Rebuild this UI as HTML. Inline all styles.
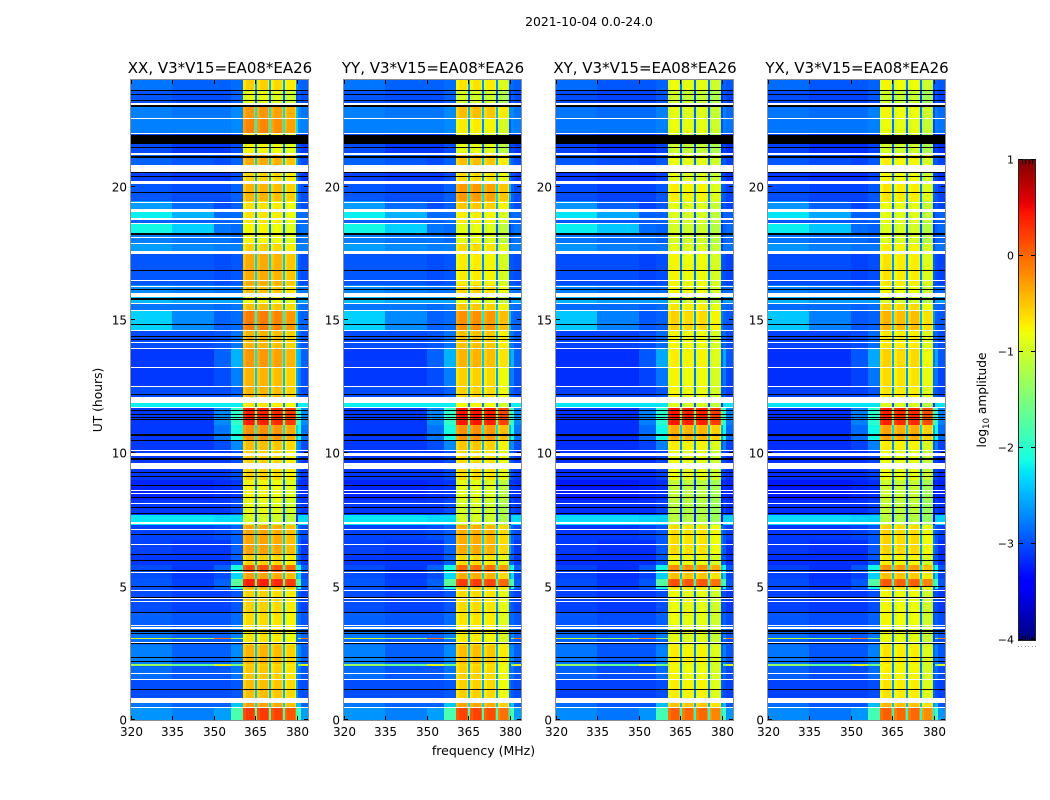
<!DOCTYPE html>
<html lang="en">
<head>
<meta charset="utf-8">
<title>2021-10-04 0.0-24.0</title>
<style>
html,body{margin:0;padding:0;background:#fff;width:1050px;height:800px;overflow:hidden}
svg{display:block}
text{font-family:"DejaVu Sans","Liberation Sans",sans-serif;fill:#000}
</style>
</head>
<body>
<svg id="chart" xmlns="http://www.w3.org/2000/svg" width="1050" height="800" viewBox="0 0 1050 800">
<rect x="0" y="0" width="1050" height="800" fill="#fff"></rect>
<text x="589" y="26" font-size="12.4" text-anchor="middle">2021-10-04 0.0-24.0</text>
<text x="483.5" y="755" font-size="12.5" text-anchor="middle">frequency (MHz)</text>
<text x="0" y="0" font-size="12.3" text-anchor="middle" transform="translate(102,400) rotate(-90)">UT (hours)</text>
<text x="0" y="0" font-size="12.2" text-anchor="middle" transform="translate(986,400) rotate(-90)">log<tspan font-size="8.5" dy="3">10</tspan><tspan dy="-3"> amplitude</tspan></text>
</svg>
<script>
// Panels
const panelTitles = ['XX, V3*V15=EA08*EA26', 'YY, V3*V15=EA08*EA26', 'XY, V3*V15=EA08*EA26', 'YX, V3*V15=EA08*EA26'];

// Tick labels
const freqTicks = [320, 335, 350, 365, 380];
const hourTicks = [0, 5, 10, 15, 20];
const colorbarTicks = [1, 0, -1, -2, -3, -4];

// Time blocks (UT hours, start of each block)
const blockStartHours = [0, 0.45, 0.83, 1.5, 2.03, 2.09, 2.8, 3.02, 3.08, 3.55, 4.05, 4.9, 5.0, 5.3, 5.55, 5.8, 6.2, 6.75, 7.3, 7.7, 8.25, 9.0, 10.13, 10.45, 11.05, 11.74, 12.12, 12.5, 13.2, 13.95, 14.63, 15.36, 15.6, 16.02, 16.3, 17.6, 17.87, 18.26, 18.64, 18.81, 19.16, 19.45, 20.21, 20.81, 21.26, 22.0, 22.58, 23.1, 23.6];

// log10 amplitude below the spectral windows, one array per frequency range
const low320to335 = [-2.65, -2.8, -3.0, -2.85, -1.3, -2.75, -2.85, -1.0, -2.8, -2.9, -3.0, -3.0, -2.95, -3.0, -3.0, -3.1, -3.05, -3.05, -2.25, -3.1, -3.2, -3.1, -3.1, -3.1, -3.1, -2.2, -3.0, -3.1, -3.1, -3.0, -2.35, -2.8, -2.45, -2.7, -2.95, -2.6, -2.75, -2.15, -2.9, -2.2, -2.6, -2.95, -3.05, -2.9, -3.0, -2.75, -2.75, -2.95, -2.8];
const low335to350 = [-2.75, -2.9, -3.0, -2.95, -1.6, -2.9, -2.95, -1.2, -2.9, -2.95, -3.05, -3.1, -3.05, -3.1, -3.1, -3.1, -3.1, -3.05, -2.25, -3.1, -3.2, -3.1, -3.1, -3.1, -3.1, -2.2, -3.0, -3.1, -3.1, -3.0, -2.7, -2.8, -2.55, -2.75, -2.95, -2.7, -2.8, -2.35, -2.9, -2.5, -2.85, -3.0, -3.1, -2.95, -3.1, -2.75, -2.8, -3.0, -2.9];
const low350to356 = [-2.6, -2.9, -3.0, -2.95, -0.9, -2.9, -2.95, -0.1, -2.9, -2.95, -3.05, -2.9, -2.9, -3.0, -2.9, -3.1, -3.1, -3.0, -2.3, -3.1, -3.15, -3.1, -3.0, -2.8, -2.7, -2.2, -3.0, -3.0, -2.9, -2.95, -2.9, -2.85, -2.55, -2.8, -3.0, -2.75, -2.8, -2.8, -2.9, -2.85, -3.0, -3.0, -3.1, -3.0, -3.1, -2.75, -2.8, -3.0, -2.9];
const low356to360 = [-1.8, -2.4, -2.95, -2.8, -1.5, -2.7, -2.85, -1.3, -2.75, -2.85, -2.95, -2.1, -1.7, -2.3, -2.1, -2.9, -2.9, -2.9, -2.3, -3.0, -3.1, -3.0, -2.7, -2.1, -1.95, -2.2, -2.9, -2.75, -2.5, -2.8, -2.85, -2.8, -2.55, -2.8, -2.95, -2.75, -2.85, -2.85, -2.85, -2.85, -2.9, -2.9, -3.0, -2.9, -3.0, -2.7, -2.7, -2.9, -2.85];

// log10 amplitude inside the 360-380 MHz windows, one array per polarisation
const inbandXX = [0.2, -0.35, -0.5, -0.55, -0.6, -0.45, -0.7, -0.7, -0.7, -0.65, -0.6, -0.4, 0.35, -0.35, 0.1, -0.6, -0.35, -0.35, -1.0, -0.9, -0.8, -0.6, -0.5, -0.25, 0.35, -0.7, -0.45, -0.45, -0.3, -0.45, -0.15, -0.5, -0.8, -0.5, -0.4, -0.6, -0.8, -0.8, -0.7, -0.7, -0.7, -0.45, -0.6, -0.4, -0.8, -0.2, -0.3, -0.9, -0.6];
const inbandYY = [0.15, -0.35, -0.6, -0.6, -0.65, -0.5, -0.75, -0.75, -0.75, -0.7, -0.65, -0.5, 0.2, -0.4, -0.05, -0.65, -0.4, -0.4, -1.0, -1.0, -0.9, -0.65, -0.55, -0.25, 0.4, -0.8, -0.6, -0.6, -0.45, -0.5, -0.25, -0.55, -0.9, -0.6, -0.75, -0.65, -0.9, -0.9, -0.75, -0.75, -0.55, -0.3, -0.65, -0.5, -0.9, -0.75, -0.5, -1.0, -0.7];
const inbandXY = [0.0, -0.5, -0.75, -0.8, -0.85, -0.75, -0.9, -0.9, -0.9, -0.85, -0.85, -0.65, 0.1, -0.5, -0.2, -0.8, -0.65, -0.65, -1.15, -1.15, -1.1, -0.85, -0.75, -0.4, 0.4, -0.95, -0.8, -0.8, -0.75, -0.8, -0.6, -0.7, -1.0, -0.8, -0.8, -0.9, -1.0, -1.0, -0.95, -0.95, -0.9, -0.75, -0.9, -0.85, -1.05, -0.85, -0.9, -1.05, -0.85];
const inbandYX = [0.0, -0.45, -0.7, -0.75, -0.8, -0.7, -0.85, -0.85, -0.85, -0.8, -0.8, -0.6, 0.05, -0.5, -0.25, -0.75, -0.6, -0.6, -1.15, -1.1, -1.05, -0.85, -0.75, -0.35, 0.35, -0.95, -0.7, -0.65, -0.6, -0.7, -0.45, -0.6, -1.0, -0.8, -0.7, -0.75, -0.95, -0.95, -0.9, -0.9, -0.85, -0.7, -0.8, -0.75, -1.0, -0.85, -0.8, -1.05, -0.8];

// Constant level differences read per panel
const lowOffsetByPanel = [0, 0, -0.05, -0.05];
const windowOffsetXX = [0.05, 0.05, 0, -0.1];
const windowOffsetYY = [0.05, 0.05, 0, -0.2];
const windowOffsetXY = [0.05, 0, 0, -0.15];
const windowOffsetYX = [0.05, 0, 0, -0.2];

// Spectral window shape: channel edges (fraction of window) and level change per channel
const windowStarts = [360.4, 365.6, 370.6, 375.6];
const windowEnds = [365.6, 370.6, 375.6, 380.3];
const windowProfile = [-0.12, 0, 0, 0, -0.2, -2.0];
const windowFractions = [0, 0.2, 0.4, 0.6, 0.8, 0.86, 1];

// Flagged time ranges [start hour, end hour]
const whiteRows = [[0.45,0.49],[0.65,0.83],[1.48,1.52],[1.73,1.76],[2.89,2.93],[3.39,3.47],[3.52,3.55],[4.43,4.46],[4.52,4.56],[4.84,4.88],[5.51,5.55],[6.56,6.6],[7.13,7.16],[7.35,7.43],[8.1,8.14],[8.49,8.53],[8.59,8.63],[9.4,9.64],[9.9,10.02],[10.08,10.13],[11.7,11.74],[11.88,12.12],[12.49,12.53],[13.2,13.24],[13.91,13.95],[14.14,14.18],[14.59,14.63],[15.34,15.38],[15.58,15.62],[15.87,16.02],[16.24,16.28],[16.46,16.5],[17.48,17.6],[17.83,17.87],[18.06,18.11],[18.6,18.64],[18.75,18.81],[19.05,19.16],[19.39,19.43],[20.11,20.21],[20.56,20.81],[21.19,21.26],[21.98,22.01],[22.54,22.58],[23.08,23.14]];
const blackRows = [[1.14,1.18],[2.18,2.22],[2.33,2.36],[2.85,2.89],[3.23,3.26],[3.3,3.38],[4.01,4.05],[4.58,4.61],[5.0,5.04],[5.61,5.64],[5.96,6.0],[6.19,6.23],[6.92,6.96],[7.73,7.76],[7.97,8.0],[8.33,8.36],[8.78,8.81],[9.11,9.15],[9.26,9.3],[9.75,9.83],[10.46,10.5],[10.67,10.73],[11.25,11.29],[11.33,11.36],[11.44,11.48],[11.6,11.64],[12.17,12.21],[14.23,14.27],[14.36,14.4],[14.81,14.85],[15.75,15.83],[16.13,16.17],[16.84,16.88],[18.19,18.26],[19.76,19.8],[20.36,20.4],[20.5,20.55],[21.08,21.14],[21.45,21.49],[21.6,21.94],[22.99,23.06],[23.21,23.25],[23.44,23.47],[23.61,23.64]];

// Layout constants
const panelLefts = [131, 344, 556, 768];
const panelWidth = 177;
const plotTop = 80;
const plotBottom = 720;
const freqMin = 320;
const freqMax = 384;
const hourMax = 24;
const cbarLeft = 1019;
const cbarWidth = 16;
const cbarTop = 160;
const cbarBottom = 640;
const valueMin = -4;
const valueMax = 1;

const inbandByPanel = [inbandXX, inbandYY, inbandXY, inbandYX];
const windowOffsetByPanel = [windowOffsetXX, windowOffsetYY, windowOffsetXY, windowOffsetYX];

const svg = document.getElementById('chart');
const NS = 'http://www.w3.org/2000/svg';

function make(tag, attrs, parent) {
  const node = document.createElementNS(NS, tag);
  for (const k in attrs) node.setAttribute(k, attrs[k]);
  parent.appendChild(node);
  return node;
}
function xScale(mhz, p) { return panelLefts[p] + (mhz - freqMin) * panelWidth / (freqMax - freqMin); }
function yScale(h) { return plotBottom - h * (plotBottom - plotTop) / hourMax; }
function cbarY(v) { return cbarBottom - (v - valueMin) * (cbarBottom - cbarTop) / (valueMax - valueMin); }
function ramp(t, pts) {
  for (let i = 1; i < pts.length; i++) {
    if (t <= pts[i][0]) {
      const a = pts[i - 1], b = pts[i];
      return a[1] + (b[1] - a[1]) * (t - a[0]) / (b[0] - a[0]);
    }
  }
  return pts[pts.length - 1][1];
}
function jet(v) {
  const t = Math.max(0, Math.min(1, (v - valueMin) / (valueMax - valueMin)));
  const r = ramp(t, [[0,0],[0.35,0],[0.66,1],[0.89,1],[1,0.5]]);
  const g = ramp(t, [[0,0],[0.125,0],[0.375,1],[0.64,1],[0.91,0],[1,0]]);
  const b = ramp(t, [[0,0.5],[0.11,1],[0.34,1],[0.65,0],[1,0]]);
  return 'rgb(' + Math.round(r * 255) + ',' + Math.round(g * 255) + ',' + Math.round(b * 255) + ')';
}
function cell(parent, p, f0, f1, h0, h1, value) {
  const x0 = Math.round(xScale(f0, p)), x1 = Math.round(xScale(f1, p));
  const y0 = Math.round(yScale(h1)), y1 = Math.round(yScale(h0));
  if (x1 <= x0 || y1 <= y0) return;
  const c = make('rect', {x: x0, y: y0, width: x1 - x0, height: y1 - y0, fill: jet(value)}, parent);
  
  
}
function flagRow(parent, p, span, color) {
  const y0 = yScale(span[1]), y1 = yScale(span[0]);
  const r = make('rect', {x: panelLefts[p], y: Math.round(y0), width: panelWidth, height: Math.max(1, Math.round(y1 - y0)), fill: color}, parent);
  
  
}

panelTitles.forEach(function (title, p) {
  const g = make('g', {'shape-rendering': 'crispEdges'}, svg);
  
  

  blockStartHours.forEach(function (h0, i) {
    const h1 = i + 1 < blockStartHours.length ? blockStartHours[i + 1] : hourMax;
    const lo = lowOffsetByPanel[p];
    cell(g, p, 320, 335, h0, h1, low320to335[i] + lo);
    cell(g, p, 335, 350, h0, h1, low335to350[i] + lo);
    cell(g, p, 350, 356, h0, h1, low350to356[i] + lo);
    cell(g, p, 356, 360.4, h0, h1, low356to360[i] + lo);
    windowStarts.forEach(function (ws, w) {
      const we = windowEnds[w];
      windowProfile.forEach(function (delta, c) {
        const f0 = ws + (we - ws) * windowFractions[c];
        const f1 = ws + (we - ws) * windowFractions[c + 1];
        cell(g, p, f0, f1, h0, h1, inbandByPanel[p][i] + windowOffsetByPanel[p][w] + delta);
      });
    });
    cell(g, p, 380.3, 381.5, h0, h1, low356to360[i] + lo);
    cell(g, p, 381.5, 384, h0, h1, low350to356[i] + lo);
  });

  whiteRows.forEach(function (span) { flagRow(g, p, span, '#fff'); });
  blackRows.forEach(function (span) { flagRow(g, p, span, '#000'); });

  const frame = make('rect', {x: panelLefts[p] - 0.5, y: plotTop - 0.5, width: panelWidth + 1, height: plotBottom - plotTop + 1, fill: 'none', stroke: '#8f8f8f', 'stroke-width': 1}, svg);
  
  

  const t = make('text', {x: panelLefts[p] + panelWidth / 2 + 0.5, y: 73, 'font-size': 15, 'text-anchor': 'middle'}, svg);
  t.textContent = title;
  
  

  freqTicks.forEach(function (f) {
    const x = Math.round(xScale(f, p)) + 0.5;
    const a = make('line', {x1: x, x2: x, y1: plotBottom, y2: plotBottom - 4, stroke: '#000', 'stroke-width': 1}, svg);
    
    
    const b = make('line', {x1: x, x2: x, y1: plotTop, y2: plotTop + 4, stroke: '#000', 'stroke-width': 1}, svg);
    
    
    const l = make('text', {x: x, y: 736, 'font-size': 12, 'text-anchor': 'middle'}, svg);
    l.textContent = f;
    
    
  });

  hourTicks.forEach(function (h) {
    const y = Math.round(yScale(h)) - 0.5;
    const a = make('line', {x1: panelLefts[p], x2: panelLefts[p] + 4, y1: y, y2: y, stroke: '#000', 'stroke-width': 1}, svg);
    
    
    const b = make('line', {x1: panelLefts[p] + panelWidth, x2: panelLefts[p] + panelWidth - 4, y1: y, y2: y, stroke: '#000', 'stroke-width': 1}, svg);
    
    
    const l = make('text', {x: panelLefts[p] - 4, y: y + 5, 'font-size': 12, 'text-anchor': 'end'}, svg);
    l.textContent = h;
    
    
  });
});

// Colorbar
const cbar = make('g', {'shape-rendering': 'crispEdges'}, svg);


for (let py = cbarTop; py < cbarBottom; py++) {
  const v = valueMin + (cbarBottom - py - 0.5) * (valueMax - valueMin) / (cbarBottom - cbarTop);
  const s = make('rect', {x: cbarLeft, y: py, width: cbarWidth, height: 1, fill: jet(v)}, cbar);
  
  
}
const cbarFrame = make('rect', {x: cbarLeft - 0.5, y: cbarTop - 0.5, width: cbarWidth + 1, height: cbarBottom - cbarTop + 1, fill: 'none', stroke: '#222', 'stroke-width': 1}, svg);


colorbarTicks.forEach(function (v) {
  const y = Math.round(cbarY(v)) - 0.5;
  const a = make('line', {x1: cbarLeft, x2: cbarLeft + 4, y1: y, y2: y, stroke: '#000', 'stroke-width': 1}, svg);
  
  
  const b = make('line', {x1: cbarLeft + cbarWidth, x2: cbarLeft + cbarWidth - 4, y1: y, y2: y, stroke: '#000', 'stroke-width': 1}, svg);
  
  
  const l = make('text', {x: cbarLeft - 5, y: y + 4, 'font-size': 11, 'text-anchor': 'end'}, svg);
  l.textContent = String(v).replace('-', '\u2212');
  
  
});
[0.2, 0.4, 0.6, 0.8].forEach(function (fr) {
  const x = Math.round(cbarLeft + cbarWidth * fr) + 0.5;
  const a = make('line', {x1: x, x2: x, y1: cbarTop, y2: cbarTop + 4, stroke: '#000', 'stroke-width': 1}, svg);
  
  
  const b = make('line', {x1: x, x2: x, y1: cbarBottom, y2: cbarBottom - 4, stroke: '#000', 'stroke-width': 1}, svg);
  
  
});
[0, 0.2, 0.4, 0.6, 0.8, 1].forEach(function (fr) {
  const d = make('rect', {x: Math.round(cbarLeft - 1 + (cbarWidth + 1) * fr), y: 646, width: 1, height: 1, fill: '#999'}, svg);
  
  
});
</script>
</body>
</html>
